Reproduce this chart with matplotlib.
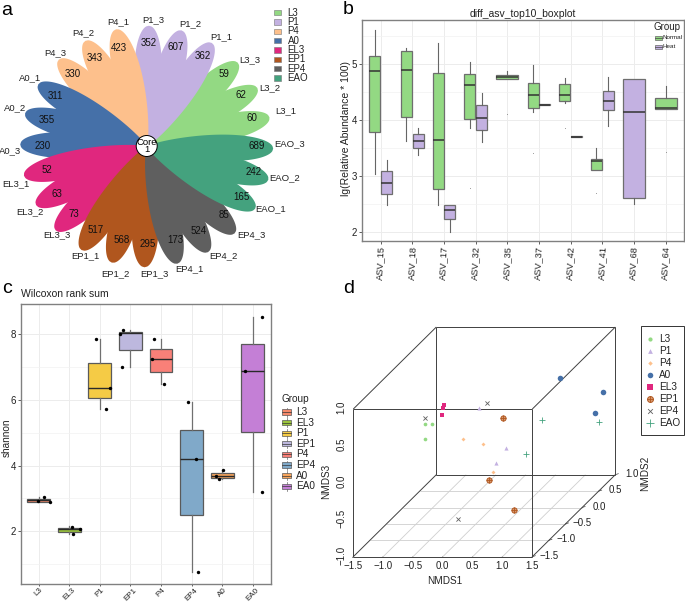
"""Four-panel figure: ASV flower plot, abundance boxplot, shannon boxplot, 3D NMDS."""

import numpy as np
import matplotlib
matplotlib.use("Agg")
import matplotlib.pyplot as plt
from matplotlib.patches import Rectangle, Circle

plt.rcParams["font.family"] = ["Liberation Sans", "DejaVu Sans"]

W, H = 685, 603

# ----------------------------------------------------------------------
# Data: panel a
# ----------------------------------------------------------------------
groups = ["L3", "P1", "P4", "A0", "EL3", "EP1", "EP4", "EAO"]
group_colors = ["#93D983", "#C3B1E1", "#FDC08C", "#4570A8",
                "#E0277E", "#B0561E", "#5F5F5F", "#44A27E"]
petal_names = ["L3_1", "L3_2", "L3_3", "P1_1", "P1_2", "P1_3",
               "P4_1", "P4_2", "P4_3", "A0_1", "A0_2", "A0_3",
               "EL3_1", "EL3_2", "EL3_3", "EP1_1", "EP1_2", "EP1_3",
               "EP4_1", "EP4_2", "EP4_3", "EAO_1", "EAO_2", "EAO_3"]
petal_values = [60, 62, 59, 362, 607, 352, 423, 343, 330, 311, 355, 230,
                52, 63, 73, 517, 568, 295, 173, 524, 85, 165, 242, 689]
core_value = 1

# text layout of the flower, in figure pixels
name_px = [(285.3, 111), (270, 87.3), (249.3, 59.3), (221, 36.7), (190, 24), (153.3, 20),
           (118.3, 21.7), (83.3, 32.3), (55, 52.7), (30, 77.7), (15.3, 107.7), (10.5, 150.7),
           (15.7, 183.3), (30, 211.3), (56.7, 235), (85, 255.7), (115, 274), (154, 273.3),
           (189.3, 268.7), (223.3, 255.7), (251.7, 235), (270.7, 208.7), (285, 177.3), (290, 144)]
value_px = [(251.7, 118.3), (241, 94.7), (224.3, 74), (203, 55.7), (176, 46.7), (149, 43.3),
            (119.3, 48.3), (95, 58.3), (72.7, 74), (55, 95.7), (46.3, 120.3), (42.7, 146),
            (46.7, 169.7), (57.3, 193.7), (74, 214.3), (95.7, 230.3), (121.3, 240), (148, 243.7),
            (175.7, 240), (199, 231), (224.3, 214.7), (241, 197.3), (253.3, 172.3), (256.7, 146)]

# ----------------------------------------------------------------------
# Data: panel b
# ----------------------------------------------------------------------
asv_names = ["ASV_15", "ASV_18", "ASV_17", "ASV_32", "ASV_35",
             "ASV_37", "ASV_42", "ASV_41", "ASV_68", "ASV_64"]
# category index, dodge side (-1 normal, +1 heat, 0 alone in its slot)
b_cat = [0, 0, 1, 1, 2, 2, 3, 3, 4, 5, 5, 6, 6, 7, 7, 8, 9]
b_side = [-1, 1, -1, 1, -1, 1, -1, 1, 0, -1, 1, -1, 1, -1, 1, 0, 0]
b_heat = [0, 1, 0, 1, 0, 1, 0, 1, 0, 0, 1, 0, 1, 0, 1, 1, 0]
b_low = [3.04, 2.48, 3.63, 3.38, 2.48, 2.00, 3.85, 3.60, 4.74, 4.15, 4.26, 4.31, 3.70, 3.11, 3.89, 2.49, 4.19]
b_q1 = [3.78, 2.68, 4.05, 3.50, 2.76, 2.22, 4.02, 3.82, 4.74, 4.22, 4.26, 4.33, 3.69, 3.11, 4.18, 2.60, 4.19]
b_med = [4.88, 2.88, 4.90, 3.62, 3.64, 2.39, 4.63, 4.04, 4.77, 4.45, 4.27, 4.45, 3.70, 3.26, 4.34, 4.14, 4.22]
b_q3 = [5.14, 3.08, 5.24, 3.74, 4.84, 2.47, 4.82, 4.26, 4.80, 4.66, 4.28, 4.64, 3.71, 3.31, 4.51, 4.73, 4.40]
b_high = [5.61, 3.28, 5.28, 3.85, 5.37, 2.47, 5.04, 4.48, 4.87, 4.99, 4.28, 4.75, 3.71, 3.49, 4.77, 4.73, 4.61]
b_fliers = [[], [], [], [], [], [], [2.78], [], [4.10], [3.40], [], [3.85], [], [2.70], [], [], [3.42]]

# ----------------------------------------------------------------------
# Data: panel c
# ----------------------------------------------------------------------
c_groups = ["L3", "EL3", "P1", "EP1", "P4", "EP4", "A0", "EA0"]
c_colors = ["#F5896B", "#9BC53D", "#F5CB45", "#BDB8DE",
            "#F98078", "#80A9C9", "#F8A55C", "#C47FD6"]
c_low = [2.89, 1.92, 5.72, 7.02, 6.48, 0.76, 3.59, 3.21]
c_q1 = [2.89, 1.99, 6.05, 7.51, 6.86, 2.49, 3.63, 5.04]
c_med = [2.94, 2.07, 6.38, 8.03, 7.24, 4.21, 3.67, 6.87]
c_q3 = [2.97, 2.11, 7.12, 8.08, 7.54, 5.08, 3.77, 7.70]
c_high = [3.03, 2.16, 7.86, 8.13, 7.86, 5.94, 3.86, 8.52]
c_points = [[2.91, 3.03, 2.90], [2.14, 2.06, 1.93], [7.85, 6.38, 5.72],
            [7.02, 8.02, 8.13], [7.86, 7.24, 6.48], [5.94, 4.21, 0.76],
            [3.86, 3.67, 3.60], [8.53, 6.87, 3.21]]
c_jitter = [[-0.01, 0.16, 0.38], [0.09, 0.35, 0.12], [-0.11, 0.33, 0.21],
            [-0.26, -0.34, -0.24], [-0.24, -0.30, 0.11], [-0.10, 0.15, 0.21],
            [0.04, -0.21, -0.11], [0.32, -0.24, 0.32]]

# ----------------------------------------------------------------------
# Data: panel d (NMDS1, NMDS2, NMDS3 per group)
# ----------------------------------------------------------------------
d_x = [[-1.417, -1.289, -1.417], [-0.512, 0.218, 0.34], [-0.497, -0.161, 0.29],
       [0.629, 1.399, 1.432], [-1.099, -1.11, -1.127], [0.174, 0.212, 0.909],
       [-1.412, -0.373, -0.03], [0.544, 1.499, 0.565]]
d_y = [[0.5, 0.5, 0.5], [0.5, 0.0, -0.5], [0.0, 0.0, -0.5],
       [0.9, 0.8, 0.5], [0.5, 0.5, 0.5], [0.0, -0.5, -1.0],
       [0.5, 0.5, -1.0], [0.5, 0.5, 0.0]]
d_z = [[-0.092, -0.087, -0.29], [0.125, -0.195, -0.176], [-0.077, -0.145, -0.298],
       [0.349, 0.209, 0.057], [0.161, 0.13, 0.035], [0.207, -0.401, -0.595],
       [-0.015, 0.197, -0.712], [-0.033, -0.065, -0.28]]
d_markers = ["o", "^", "D", "o", "s", "P", "x", "+"]
d_sizes = [7, 9, 4, 16, 11, 14, 9, 22]
x_ticks_d = [-1.5, -1.0, -0.5, 0.0, 0.5, 1.0, 1.5]
y_ticks_d = [-1.5, -1.0, -0.5, 0.0, 0.5, 1.0]
z_ticks_d = [-1.0, -0.5, 0.0, 0.5, 1.0]


def px_axes(fig, left, top, right, bottom):
    """Axes placed by pixel edges of the figure."""
    return fig.add_axes([left / W, 1 - bottom / H,
                         (right - left) / W, (bottom - top) / H])


def style_box_axes(ax, minor_y):
    for s in ax.spines.values():
        s.set_color("#808080")
        s.set_linewidth(1.0)
    ax.set_yticks(minor_y, minor=True)
    ax.grid(True, which="major", color="#ececec", lw=0.7)
    ax.grid(True, which="minor", axis="y", color="#f2f2f2", lw=0.5)
    ax.tick_params(which="minor", length=0)
    ax.tick_params(which="major", length=2, width=0.6, color="#444444",
                   labelsize=7, pad=1.5, labelcolor="#222222")
    ax.set_axisbelow(True)


fig = plt.figure(figsize=(W / 100, H / 100), dpi=100)

# overlay in figure pixels for the flower, 3D box and hand-made legends
ov = fig.add_axes([0, 0, 1, 1], zorder=5)
ov.set_xlim(0, W)
ov.set_ylim(H, 0)
ov.set_axis_off()
ov.patch.set_alpha(0)

# ----------------------------------------------------------------------
# a: flower
# ----------------------------------------------------------------------
cx, cy = 146.7, 146.5
PETAL_LEN, PETAL_W = 126.5, 13.8
SQUASH_Y = 0.955
u = np.linspace(0, 1, 160)
v_par = u ** 1.5          # fattest part sits towards the tip
half = PETAL_W * np.sqrt(np.clip(1 - (2 * v_par - 1) ** 2, 0, 1))
pu = np.concatenate([u, u[::-1]]) * PETAL_LEN
pv = np.concatenate([half, -half[::-1]])
for k, (name, val) in enumerate(zip(petal_names, petal_values)):
    ang = np.deg2rad(14 + 15 * k)
    c, s = np.cos(ang), np.sin(ang)
    ov.fill(cx + pu * c - pv * s, cy + SQUASH_Y * (-pu * s - pv * c),
            color=group_colors[k // 3], lw=0, zorder=1 + k // 3)
    ov.text(value_px[k][0], value_px[k][1], str(val), fontsize=7, ha="center",
            va="center", color="#111111", zorder=12)
    ov.text(name_px[k][0], name_px[k][1], name, fontsize=6.8, ha="center",
            va="center", color="#222222", zorder=12)
ov.add_patch(Circle((146.7, 146), 10.5, fc="white", ec="black", lw=0.7, zorder=11))
ov.text(146.7, 146, "Core\n%d" % core_value, fontsize=6.8, ha="center", va="center",
        linespacing=0.85, zorder=12)
for i, (g, col) in enumerate(zip(groups, group_colors)):
    yy = 12.7 + 9.33 * i
    ov.add_patch(Rectangle((274.3, yy - 2.8), 6.4, 5.6, fc=col, ec="#777777", lw=0.4))
    ov.text(287.5, yy, g, fontsize=7, va="center", color="#222222")

# ----------------------------------------------------------------------
# b: top-10 ASV boxplot
# ----------------------------------------------------------------------
ax_b = px_axes(fig, 361.7, 20, 684, 240.7)
stats = []
for i in range(len(b_cat)):
    stats.append(dict(med=b_med[i], q1=b_q1[i], q3=b_q3[i], whislo=b_low[i],
                      whishi=b_high[i], fliers=b_fliers[i]))
pos = [c + 1 + 0.185 * s for c, s in zip(b_cat, b_side)]
wid = [0.34 if s != 0 else 0.70 for s in b_side]
bp = ax_b.bxp(stats, positions=pos, widths=wid, patch_artist=True, showcaps=False,
              manage_ticks=False,
              boxprops=dict(edgecolor="#6e6e6e", linewidth=0.9),
              medianprops=dict(color="#333333", linewidth=1.1),
              whiskerprops=dict(color="#666666", linewidth=0.8),
              flierprops=dict(marker=".", markersize=1.2, color="#555555",
                              markerfacecolor="#555555", markeredgecolor="none"))
for patch, heat in zip(bp["boxes"], b_heat):
    patch.set_facecolor(group_colors[1] if heat else group_colors[0])
ax_b.set_xlim(0.4, 10.58)
ax_b.set_ylim(1.84, 5.787)
ax_b.set_yticks([2, 3, 4, 5])
ax_b.set_xticks(range(1, 11))
ax_b.set_xticklabels(asv_names, rotation=87, ha="center", va="top")
style_box_axes(ax_b, [2.5, 3.5, 4.5, 5.5])
ax_b.tick_params(axis="x", labelsize=6.7)
ax_b.set_title("diff_asv_top10_boxplot", fontsize=7.5, pad=2.5, color="#222222")
ax_b.set_ylabel("lg(Relative Abundance * 100)", fontsize=7.5, color="#222222")
ax_b.yaxis.set_label_coords(-0.033, 0.51)
ov.text(667, 27, "Group", fontsize=7, ha="center", va="center", color="#222222")
for yy, lab, col in [(37.7, "Normal", group_colors[0]), (47, "Heat", group_colors[1])]:
    ov.add_patch(Rectangle((655, yy - 2), 6.6, 4, fc=col, ec="#666666", lw=0.5))
    ov.plot([655, 661.6], [yy, yy], color="#444444", lw=0.5)
    ov.text(663, yy, lab, fontsize=4.5, va="center", color="#222222")

# ----------------------------------------------------------------------
# c: shannon boxplot
# ----------------------------------------------------------------------
ax_c = px_axes(fig, 20.7, 304, 271, 584.3)
stats = []
for i in range(len(c_groups)):
    stats.append(dict(med=c_med[i], q1=c_q1[i], q3=c_q3[i], whislo=c_low[i],
                      whishi=c_high[i], fliers=[]))
bp = ax_c.bxp(stats, positions=range(1, 9), widths=0.75, patch_artist=True,
              showcaps=False, manage_ticks=False, showfliers=False,
              boxprops=dict(edgecolor="#5a5a5a", linewidth=0.9),
              medianprops=dict(color="#2a2a2a", linewidth=1.0),
              whiskerprops=dict(color="#707070", linewidth=0.9))
for patch, col in zip(bp["boxes"], c_colors):
    patch.set_facecolor(col)
for i in range(len(c_groups)):
    ax_c.scatter(np.array(c_jitter[i]) + i + 1, c_points[i], s=6, color="black",
                 lw=0, zorder=5)
ax_c.set_xlim(0.41, 8.6)
ax_c.set_ylim(0.386, 8.924)
ax_c.set_yticks([2, 4, 6, 8])
ax_c.set_xticks(range(1, 9))
ax_c.set_xticklabels(c_groups, rotation=45, ha="center", va="top")
style_box_axes(ax_c, [1, 3, 5, 7])
ax_c.tick_params(axis="x", labelsize=5.8, pad=0, length=1.5)
ax_c.set_title("Wilcoxon rank sum", fontsize=7.5, loc="left", pad=5, color="#222222")
ax_c.set_ylabel("shannon", fontsize=7.2, color="#222222")
ax_c.yaxis.set_label_coords(-0.035, 0.522)
ov.text(281.7, 399.5, "Group", fontsize=7.2, va="center", color="#222222")
for i, (g, col) in enumerate(zip(c_groups, c_colors)):
    yy = 412 + 10.6 * i
    ov.plot([286.7, 286.7], [yy - 4.5, yy + 4.5], color="#666666", lw=0.5, zorder=1)
    ov.add_patch(Rectangle((282.4, yy - 2.6), 8.6, 5.2, fc=col, ec="#5a5a5a", lw=0.5, zorder=2))
    ov.plot([282.4, 291], [yy, yy], color="#333333", lw=0.5, zorder=3)
    ov.text(295.7, yy, g, fontsize=7.2, va="center", color="#222222")

# ----------------------------------------------------------------------
# d: 3D NMDS scatter, drawn with a simple oblique projection
# ----------------------------------------------------------------------
X0, Y0 = 353.3, 556.7     # screen position of (-1.5, -1.5, -1)


def project(x, y, z):
    x, y, z = np.asarray(x, float), np.asarray(y, float), np.asarray(z, float)
    sx = X0 + 59.67 * (x + 1.5) + 33.2 * (y + 1.5)
    sy = Y0 - 73.83 * (z + 1.0) - 32.8 * (y + 1.5)
    return sx, sy


def seg3(p, q, **kw):
    sx, sy = project([p[0], q[0]], [p[1], q[1]], [p[2], q[2]])
    ov.plot(sx, sy, solid_capstyle="butt", **kw)


xa, xb, ya, yb, za, zb = -1.5, 1.5, -1.5, 1.0, -1.0, 1.0
for xt in x_ticks_d[1:-1]:
    seg3((xt, ya, za), (xt, yb, za), color="#cfcfcf", lw=0.6, zorder=1)
for yt in y_ticks_d[1:-1]:
    seg3((xa, yt, za), (xb, yt, za), color="#cfcfcf", lw=0.6, zorder=1)
box = dict(color="#404040", lw=0.7, zorder=2)
for y_ in (ya, yb):
    seg3((xa, y_, za), (xb, y_, za), **box)
    seg3((xa, y_, zb), (xb, y_, zb), **box)
    seg3((xa, y_, za), (xa, y_, zb), **box)
    seg3((xb, y_, za), (xb, y_, zb), **box)
for x_ in (xa, xb):
    for z_ in (za, zb):
        seg3((x_, ya, z_), (x_, yb, z_), **box)

for xt in x_ticks_d:
    seg3((xt, ya, za), (xt, ya - 0.03, za), color="#404040", lw=0.5)
    sx, sy = project(xt, ya, za)
    ov.text(sx, sy + 9.5, ("%.1f" % xt).replace("-", "\u2212"), fontsize=7, ha="center",
            va="center", color="#222222")
for yt in y_ticks_d:
    sx, sy = project(xb, yt, za)
    ov.plot([sx, sx + 3], [sy, sy - 1], color="#404040", lw=0.5)
    ov.text(sx + 17, sy - 1, ("%.1f" % yt).replace("-", "\u2212"), fontsize=7, ha="center",
            va="center", color="#222222")
for zt in z_ticks_d:
    sx, sy = project(xa, ya, zt)
    ov.text(sx - 11.5, sy - 1.5, ("%.1f" % zt).replace("-", "\u2212"), fontsize=7, ha="center",
            va="center", rotation=90, color="#222222")
ov.text(445, 581, "NMDS1", fontsize=7.2, ha="center", va="center", color="#222222")
ov.text(325.7, 481, "NMDS3", fontsize=7.2, ha="center", va="center", rotation=90, color="#222222")
ov.text(645, 473, "NMDS2", fontsize=7.2, ha="center", va="center", rotation=90, color="#222222")


def put_marker(sx, sy, i, scale=1.0):
    mk = d_markers[i]
    if mk in ("x", "+"):
        ov.scatter(sx, sy, s=d_sizes[i] * scale, marker=mk, color=group_colors[i],
                   lw=0.6, zorder=6)
    elif mk == "P":
        ov.scatter(sx, sy, s=d_sizes[i] * scale, marker="o", facecolor="#D99A70",
                   edgecolor=group_colors[i], lw=0.7, zorder=6)
        ov.scatter(sx, sy, s=d_sizes[i] * scale, marker="+", color=group_colors[i],
                   lw=0.6, zorder=7)
    else:
        ov.scatter(sx, sy, s=d_sizes[i] * scale, marker=mk, color=group_colors[i],
                   lw=0, zorder=6)


for i in range(len(groups)):
    sx, sy = project(d_x[i], d_y[i], d_z[i])
    put_marker(sx, sy, i)

ov.add_patch(Rectangle((640.7, 325.7), 43.8, 109.6, fc="white", ec="#333333", lw=0.7, zorder=3))
for i, g in enumerate(groups):
    yy = 338.7 + 12.1 * i
    put_marker([650], [yy], i, scale=1.3 if i != 3 else 1.0)
    ov.text(659, yy, g, fontsize=7.2, va="center", color="#222222", zorder=6)

# panel letters
for lab, lx, ly in [("a", 1.5, 15), ("b", 343, 14), ("c", 2.5, 293), ("d", 343, 293)]:
    ov.text(lx, ly, lab, fontsize=14, va="baseline", color="black")

fig.savefig("out.png", dpi=100)
